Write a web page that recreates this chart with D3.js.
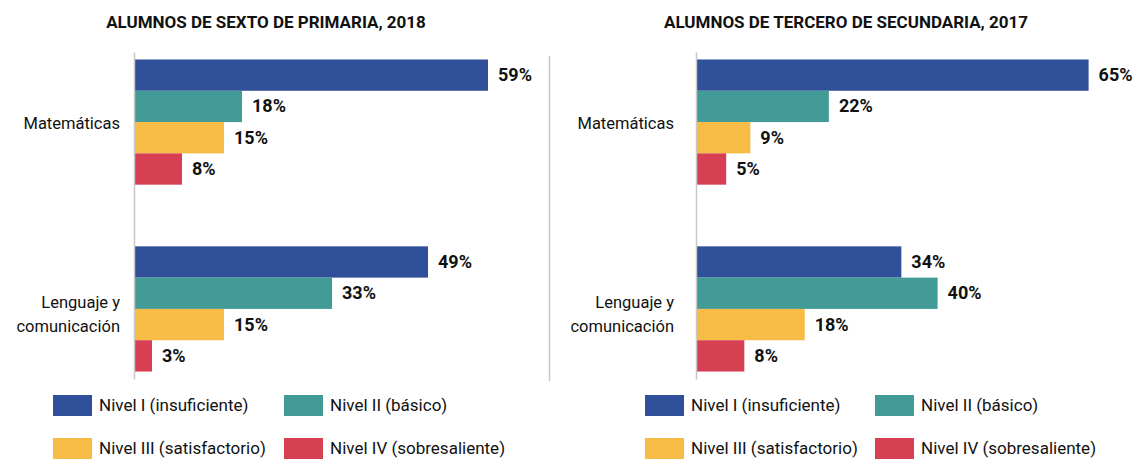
<!DOCTYPE html>
<html>
<head>
<meta charset="utf-8">
<script src="https://cdn.jsdelivr.net/npm/d3@7/dist/d3.min.js"></script>
<style>
  body { margin: 0; background: #fff; }
  text { font-family: "Roboto", sans-serif; fill: #111; }
</style>
</head>
<body>
<script>
const width = 1140;
const height = 462;

// data
const categories = ["Matemáticas", "Lenguaje y comunicación"];
const levels = ["Nivel I (insuficiente)", "Nivel II (básico)", "Nivel III (satisfactorio)", "Nivel IV (sobresaliente)"];
const levelColors = ["#30509a", "#429b97", "#f6bc45", "#d73f53"];

const titles = ["ALUMNOS DE SEXTO DE PRIMARIA, 2018", "ALUMNOS DE TERCERO DE SECUNDARIA, 2017"];
const primariaMat = [59, 18, 15, 8];
const primariaLeng = [49, 33, 15, 3];
const secundariaMat = [65, 22, 9, 5];
const secundariaLeng = [34, 40, 18, 8];

const svg = d3.select('body').append('svg').attr('width', width).attr('height', height);

// separator between the two charts
svg.append('line')
  .attr('x1', 549.5).attr('x2', 549.5)
  .attr('y1', 56).attr('y2', 381)
  .style('stroke', '#c8c8c8')
  .style('stroke-width', 1.5);

const panels = [
  {title: titles[0], values: [primariaMat, primariaLeng], x0: 134, pxPer: 6.0, titleX: 266, labelPad: 14, legendX: [53, 284]},
  {title: titles[1], values: [secundariaMat, secundariaLeng], x0: 696, pxPer: 6.04, titleX: 846, labelPad: 22, legendX: [645, 875]}
];

const ys = d3.scaleBand()
  .domain(categories)
  .range([52, 379])
  .paddingInner(0.33)
  .paddingOuter(0.04);

const yl = d3.scaleBand()
  .domain(levels)
  .range([0, ys.bandwidth()]);

panels.forEach(function(p) {
  const g = svg.append('g');

  const xs = d3.scaleLinear()
    .domain([0, 70])
    .range([p.x0, p.x0 + 70 * p.pxPer]);

  g.append('text')
    .attr('x', p.titleX)
    .attr('y', 28)
    .attr('text-anchor', 'middle')
    .style('font-size', '17px')
    .style('font-weight', 'bold')
    .text(p.title);

  const rows = [];
  categories.forEach(function(c, i) {
    p.values[i].forEach(function(v, j) {
      rows.push({cat: c, level: levels[j], color: levelColors[j], value: v});
    });
  });

  g.selectAll('rect.bar')
    .data(rows)
    .enter()
    .append('rect')
    .attr('class', 'bar')
    .attr('x', xs(0))
    .attr('y', function(d){ return ys(d.cat) + yl(d.level) })
    .attr('width', function(d){ return xs(d.value) - xs(0) })
    .attr('height', yl.bandwidth())
    .style('fill', function(d){ return d.color });

  g.selectAll('text.val')
    .data(rows)
    .enter()
    .append('text')
    .attr('class', 'val')
    .attr('x', function(d){ return xs(d.value) + 10 })
    .attr('y', function(d){ return ys(d.cat) + yl(d.level) + yl.bandwidth() / 2 + 6 })
    .style('font-size', '18px')
    .style('font-weight', 'bold')
    .text(function(d){ return d.value + '%' });

  // category axis
  const yaxis = g.append('g')
    .attr('transform', 'translate(' + p.x0 + ',0)')
    .call(d3.axisLeft(ys).tickSize(0).tickFormat(''));
  yaxis.select('.domain')
    .style('stroke', '#c8c8c8')
    .style('stroke-width', 1.5);

  categories.forEach(function(c) {
    const words = c === "Lenguaje y comunicación" ? ["Lenguaje y", "comunicación"] : [c];
    const cy = ys(c) + ys.bandwidth() / 2;
    const t = g.append('text')
      .attr('text-anchor', 'end')
      .style('font-size', '16.5px');
    words.forEach(function(w, k) {
      t.append('tspan')
        .attr('x', p.x0 - p.labelPad)
        .attr('y', words.length === 1 ? cy + 7 : cy - 1 + k * 24)
        .text(w);
    });
  });

  // legend
  const leg = g.selectAll('g.leg')
    .data(levels)
    .enter()
    .append('g')
    .attr('class', 'leg')
    .attr('transform', function(d, i){ return 'translate(' + p.legendX[i % 2] + ',' + (395 + Math.floor(i / 2) * 43) + ')' });
  leg.append('rect')
    .attr('width', 39)
    .attr('height', 21)
    .style('fill', function(d, i){ return levelColors[i] });
  leg.append('text')
    .attr('x', 46)
    .attr('y', 16)
    .style('font-size', '17px')
    .text(function(d){ return d });
});
</script>
</body>
</html>
